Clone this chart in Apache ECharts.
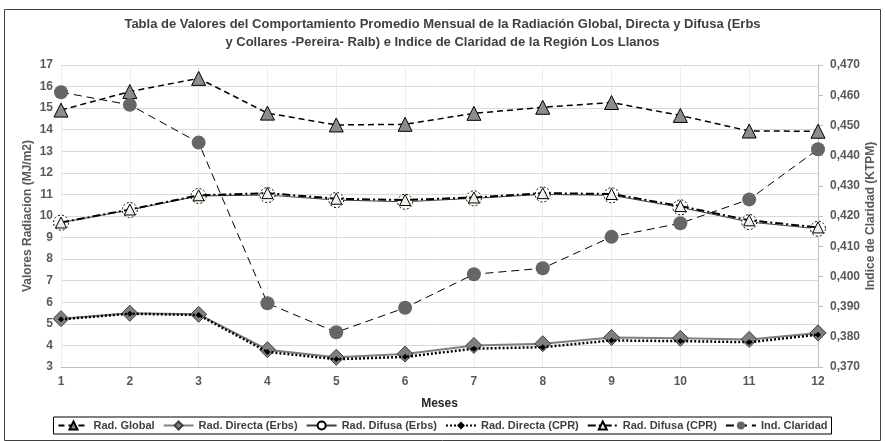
<!DOCTYPE html>
<html><head><meta charset="utf-8">
<script src="https://cdn.jsdelivr.net/npm/echarts@6/dist/echarts.min.js"></script>
<style>html,body{margin:0;padding:0;background:#fff}#c{width:885px;height:441px}</style>
</head><body><div id="c"></div>
<script>
const months = ['1','2','3','4','5','6','7','8','9','10','11','12'];
const radGlobal = [14.91, 15.77, 16.38, 14.77, 14.22, 14.25, 14.76, 15.04, 15.26, 14.66, 13.94, 13.93];
const radDirectaErbs = [5.24, 5.49, 5.44, 3.8, 3.45, 3.6, 4.0, 4.08, 4.37, 4.33, 4.28, 4.58];
const radDifusaErbs = [9.69, 10.28, 10.93, 10.97, 10.74, 10.66, 10.82, 11.0, 10.96, 10.4, 9.72, 9.41];
const radDirectaCPR = [5.21, 5.47, 5.41, 3.7, 3.36, 3.47, 3.85, 3.92, 4.23, 4.2, 4.15, 4.5];
const radDifusaCPR = [9.7, 10.3, 10.96, 11.06, 10.8, 10.74, 10.86, 11.06, 11.02, 10.46, 9.8, 9.47];
const indClaridad = [0.461, 0.4568, 0.4443, 0.3911, 0.3815, 0.3896, 0.4007, 0.4027, 0.4131, 0.4176, 0.4255, 0.4421];
const leftTicks = {min: 3, max: 17, interval: 1};
const rightTicks = {min: 0.37, max: 0.47, interval: 0.01};

const chart = echarts.init(document.getElementById('c'), null, {renderer: 'canvas'});
const font = 'Liberation Sans, Arial, sans-serif';
const labelColor = '#595959';
chart.setOption({
  animation: false,
  backgroundColor: '#fff',
  textStyle: {fontFamily: font},
  graphic: [{type: 'rect', shape: {x: 4.5, y: 9.5, width: 876, height: 431}, style: {fill: 'none', stroke: '#404040', lineWidth: 1}, silent: true, z: -1}],
  title: {
    text: 'Tabla de Valores del Comportamiento Promedio Mensual de la Radiación Global, Directa y Difusa (Erbs\ny Collares -Pereira- Ralb) e Indice de Claridad de la Región Los Llanos',
    left: 'center', top: 10,
    textStyle: {fontSize: 13, fontWeight: 'bold', color: '#404040', fontFamily: font, lineHeight: 18}
  },
  grid: {left: 61, right: 65, top: 65, bottom: 74, containLabel: false},
  legend: {
    bottom: 7, left: 'center',
    itemGap: 8, itemWidth: 30, itemHeight: 10,
    padding: [3, 4, 3, 4],
    borderColor: '#000', borderWidth: 1,
    textStyle: {fontSize: 11, fontWeight: 'bold', color: '#404040', fontFamily: font},
    data: ['Rad. Global', 'Rad. Directa (Erbs)', 'Rad. Difusa (Erbs)', 'Rad. Directa (CPR)', 'Rad. Difusa (CPR)', 'Ind. Claridad']
  },
  xAxis: {
    type: 'category', data: months, boundaryGap: false,
    name: 'Meses', nameLocation: 'middle', nameGap: 31,
    nameTextStyle: {fontSize: 12, fontWeight: 'bold', color: '#262626'},
    axisLine: {lineStyle: {color: '#bfbfbf'}},
    axisTick: {show: false},
    axisLabel: {fontSize: 12, fontWeight: 'bold', color: labelColor, margin: 9},
    splitLine: {show: true, lineStyle: {color: '#ececec'}}
  },
  yAxis: [{
    type: 'value', min: leftTicks.min, max: leftTicks.max, interval: leftTicks.interval,
    name: 'Valores Radiacion (MJ/m2)', nameLocation: 'middle', nameGap: 27, nameMoveOverlap: false,
    nameTextStyle: {fontSize: 12, fontWeight: 'bold', color: labelColor},
    axisLine: {show: false}, axisTick: {show: false},
    axisLabel: {fontSize: 12, fontWeight: 'bold', color: labelColor, margin: 8},
    splitLine: {lineStyle: {color: '#d9d9d9'}}
  }, {
    type: 'value', min: rightTicks.min, max: rightTicks.max, interval: rightTicks.interval,
    position: 'right',
    name: 'Indice de Claridad (KTPM)', nameLocation: 'middle', nameGap: 47, nameMoveOverlap: false,
    nameTextStyle: {fontSize: 12, fontWeight: 'bold', color: labelColor},
    axisLine: {show: true, lineStyle: {color: '#bfbfbf'}},
    axisTick: {show: true, length: 5, lineStyle: {color: '#bfbfbf'}},
    axisLabel: {fontSize: 12, fontWeight: 'bold', color: labelColor, margin: 12,
      formatter: v => v.toFixed(3).replace('.', ',')},
    splitLine: {show: false}
  }],
  series: [
    {name: 'Rad. Global', type: 'line', data: radGlobal, z: 5,
     lineStyle: {color: '#000', width: 1.5, type: [6, 4]},
     symbol: 'triangle', symbolSize: 14,
     itemStyle: {color: '#8c8c8c', borderColor: '#000', borderWidth: 1}},
    {name: 'Rad. Directa (Erbs)', type: 'line', data: radDirectaErbs, z: 3,
     lineStyle: {color: '#808080', width: 2},
     symbol: 'diamond', symbolSize: 16,
     itemStyle: {color: '#7f7f7f', borderColor: '#404040', borderWidth: 1}},
    {name: 'Rad. Difusa (Erbs)', type: 'line', data: radDifusaErbs, z: 3,
     lineStyle: {color: '#404040', width: 1},
     symbol: 'circle', symbolSize: 15,
     itemStyle: {color: '#fff', borderColor: '#000', borderWidth: 1, borderType: [2, 2]}},
    {name: 'Rad. Directa (CPR)', type: 'line', data: radDirectaCPR, z: 4,
     lineStyle: {color: '#000', width: 2.5, type: [2, 2]},
     symbol: 'diamond', symbolSize: 6,
     itemStyle: {color: '#000', borderColor: '#000', borderWidth: 0}},
    {name: 'Rad. Difusa (CPR)', type: 'line', data: radDifusaCPR, z: 4,
     lineStyle: {color: '#000', width: 2, type: [8, 3, 2, 3]},
     symbol: 'triangle', symbolSize: 11,
     itemStyle: {color: '#f2f2e4', borderColor: '#000', borderWidth: 1}},
    {name: 'Ind. Claridad', type: 'line', data: indClaridad, yAxisIndex: 1, z: 5,
     lineStyle: {color: '#000', width: 1, type: [8, 5]},
     symbol: 'circle', symbolSize: 14,
     itemStyle: {color: '#666666', borderWidth: 0}}
  ]
});
</script></body></html>
